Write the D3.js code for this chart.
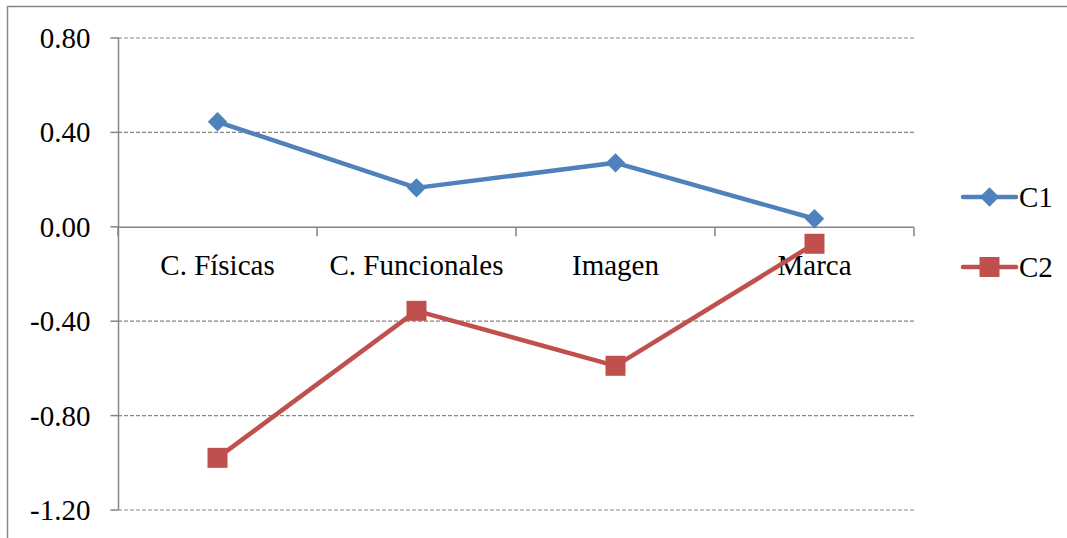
<!DOCTYPE html>
<html>
<head>
  <meta charset="utf8">
  <script src="https://d3js.org/d3.v7.min.js"></script>
  <style>
    body { margin: 0; background: #fff; }
    svg text { font-family: 'Liberation Serif', 'DejaVu Serif', 'Noto Serif', Times, serif; font-size: 29px; }
  </style>
</head>
<body>
  <svg id="chart" width="1067" height="538"></svg>
  <script>
    var categories = ['C. Físicas', 'C. Funcionales', 'Imagen', 'Marca'];
    var c1 = [0.445, 0.165, 0.271, 0.034];
    var c2 = [-0.979, -0.356, -0.589, -0.072];
    var yTicks = [0.8, 0.4, 0, -0.4, -0.8, -1.2];
    var seriesNames = ['C1', 'C2'];

    var blue = '#4F81BD', red = '#C0504D', gray = '#868686';
    var chart = d3.select('#chart');

    // outer frame (right/bottom edges fall outside the picture)
    chart.append('rect')
      .attr('x', 7.5).attr('y', 6.5)
      .attr('width', 1200).attr('height', 700)
      .attr('fill', 'none').attr('stroke', gray).attr('stroke-width', 1.5);

    var x = d3.scaleBand().domain(categories).range([118, 914]);
    var y = d3.scaleLinear().domain([-1.2, 0.8]).range([510, 38]);

    // dashed grid
    chart.append('g').selectAll('line')
      .data(yTicks.filter((d) => d !== 0))
      .enter().append('line')
      .attr('x1', 118).attr('x2', 914)
      .attr('y1', (d) => y(d)).attr('y2', (d) => y(d))
      .attr('stroke', gray).attr('stroke-width', 1.2)
      .attr('stroke-dasharray', '4,2');

    // y axis
    var yAxis = chart.append('g').attr('transform', 'translate(118.5,0)');
    yAxis.append('line')
      .attr('y1', y(0.8)).attr('y2', y(-1.2))
      .attr('stroke', gray).attr('stroke-width', 1.5);
    yAxis.selectAll('.yt').data(yTicks).enter().append('line')
      .attr('x1', -8).attr('x2', 0)
      .attr('y1', (d) => y(d)).attr('y2', (d) => y(d))
      .attr('stroke', gray).attr('stroke-width', 1.5);
    yAxis.selectAll('.yl').data(yTicks).enter().append('text')
      .attr('x', -28)
      .attr('y', (d) => y(d) + 10)
      .attr('text-anchor', 'end')
      .attr('fill', '#000')
      .text((d) => d3.format('.2f')(d).replace('−', '-'));

    // x axis at zero
    var xAxis = chart.append('g')
      .attr('transform', 'translate(0,' + (y(0) + 0.5) + ')');
    xAxis.append('line')
      .attr('x1', 118).attr('x2', 914)
      .attr('stroke', gray).attr('stroke-width', 1.5);
    var bounds = categories.map((c) => x(c)).concat([x.range()[1]]);
    xAxis.selectAll('.xt')
      .data(bounds)
      .enter().append('line')
      .attr('x1', (d) => d).attr('x2', (d) => d)
      .attr('y1', 0).attr('y2', 9)
      .attr('stroke', gray).attr('stroke-width', 1.5);
    xAxis.selectAll('.xl')
      .data(categories)
      .enter().append('text')
      .attr('x', (d) => x(d) + x.bandwidth() / 2)
      .attr('y', 48)
      .attr('text-anchor', 'middle')
      .attr('fill', '#000')
      .text((d) => d);

    var line = d3.line()
      .x((d, i) => x(categories[i]) + x.bandwidth() / 2)
      .y((d) => y(d));

    var diamond = d3.symbol().type(d3.symbolDiamond2).size(240);

    // C1
    chart.append('path').datum(c1)
      .attr('d', line).attr('fill', 'none')
      .attr('stroke', blue).attr('stroke-width', 4.5).attr('stroke-linejoin', 'round');
    chart.selectAll('.m1').data(c1).enter().append('path')
      .attr('d', diamond)
      .attr('transform', (d, i) => 'translate(' + (x(categories[i]) + x.bandwidth() / 2) + ',' + y(d) + ')')
      .attr('fill', blue);

    // C2
    chart.append('path').datum(c2)
      .attr('d', line).attr('fill', 'none')
      .attr('stroke', red).attr('stroke-width', 4.5).attr('stroke-linejoin', 'round');
    chart.selectAll('.m2').data(c2).enter().append('rect')
      .attr('x', (d, i) => x(categories[i]) + x.bandwidth() / 2 - 10)
      .attr('y', (d) => y(d) - 10)
      .attr('width', 20).attr('height', 20)
      .attr('fill', red);

    // legend
    var legend = chart.append('g');
    var colors = [blue, red];
    var ly = [197, 267];
    seriesNames.forEach((name, i) => {
      var g = legend.append('g').attr('transform', 'translate(0,' + ly[i] + ')');
      g.append('line')
        .attr('x1', 963).attr('x2', 1016)
        .attr('stroke', colors[i]).attr('stroke-width', 4.5).attr('stroke-linecap', 'round');
      if (i === 0) {
        g.append('path').attr('d', diamond).attr('transform', 'translate(989.5,0)').attr('fill', blue);
      } else {
        g.append('rect').attr('x', 979.5).attr('y', -10).attr('width', 20).attr('height', 20).attr('fill', red);
      }
      g.append('text')
        .attr('x', 1019).attr('y', 10)
        .attr('fill', '#000')
        .text(name);
    });
  </script>
</body>
</html>
